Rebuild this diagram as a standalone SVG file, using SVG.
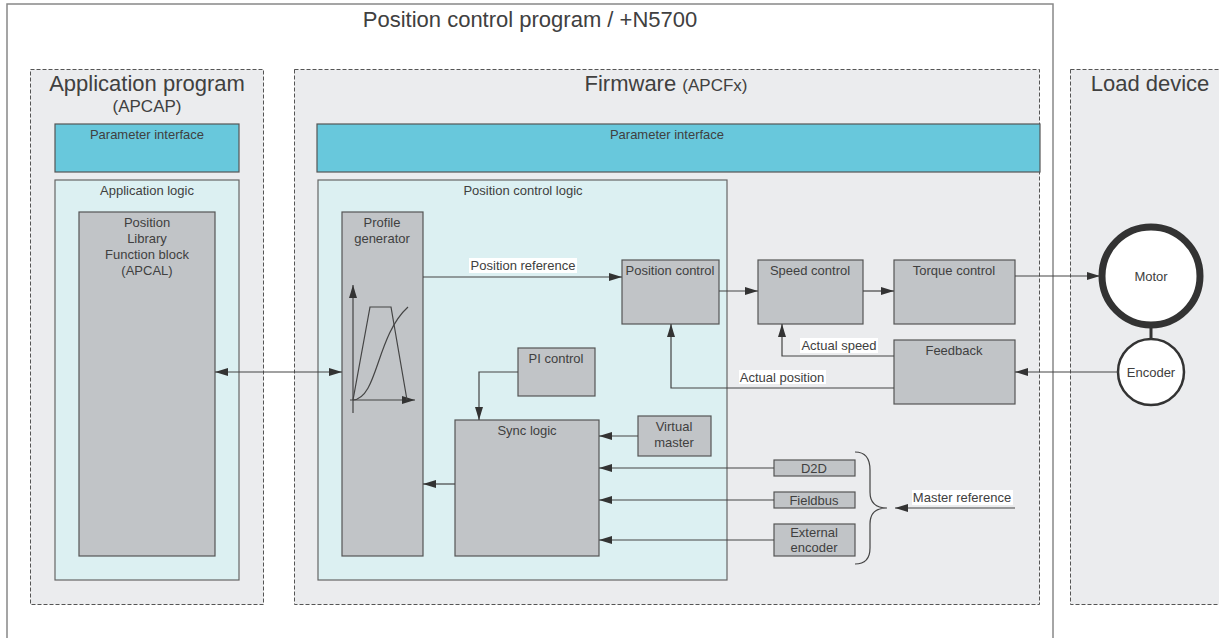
<svg xmlns="http://www.w3.org/2000/svg" width="1219" height="638" viewBox="0 0 1219 638">
<style>
text{font-family:"Liberation Sans",Arial,sans-serif;fill:#404040;text-anchor:middle}
.t13{font-size:13px}
.h{font-size:22px}
.sub{font-size:17px}
.zone{fill:#ebecee;stroke:#555;stroke-width:1;stroke-dasharray:4 2}
.param{fill:#68c8dc;stroke:#555;stroke-width:1.2}
.logic{fill:#dcf0f2;stroke:#666;stroke-width:1.2}
.blk{fill:#c1c4c7;stroke:#555;stroke-width:1.2}
.ln{fill:none;stroke:#444;stroke-width:1.2}
.lbl{fill:#fff}
</style>
<defs>
<marker id="ah" markerUnits="userSpaceOnUse" markerWidth="13" markerHeight="8" refX="13" refY="4" orient="auto-start-reverse">
<path d="M0,0 L13,4 L0,8 z" fill="#333"/>
</marker>
</defs>
<g id="frame">
<rect x="7" y="4" width="1046" height="660" fill="#fff" stroke="#888" stroke-width="1.5"/>
<text class="h" x="530" y="27">Position control program / +N5700</text>
</g>
<g id="app-program">
<rect class="zone" x="30.5" y="69.5" width="233" height="535"/>
<text class="h" x="147" y="91">Application program</text>
<text class="sub" x="147" y="112">(APCAP)</text>
</g>
<g id="app-param">
<rect class="param" x="55" y="124" width="184" height="48"/>
<text class="t13" x="147" y="139">Parameter interface</text>
</g>
<g id="app-logic">
<rect class="logic" x="55" y="180" width="184" height="400"/>
<text class="t13" x="147" y="195">Application logic</text>
</g>
<g id="apcal">
<rect class="blk" x="79" y="212" width="136" height="344"/>
<text class="t13" x="147" y="227">Position</text>
<text class="t13" x="147" y="243">Library</text>
<text class="t13" x="147" y="259">Function block</text>
<text class="t13" x="147" y="275">(APCAL)</text>
</g>
<g id="firmware">
<rect class="zone" x="294.5" y="69.5" width="745" height="535"/>
<text x="666" y="91"><tspan class="h" style="font-size:22px">Firmware </tspan><tspan style="font-size:17px">(APCFx)</tspan></text>
</g>
<g id="fw-param">
<rect class="param" x="317" y="124" width="723" height="48"/>
<text class="t13" x="667" y="139">Parameter interface</text>
</g>
<g id="pos-logic">
<rect class="logic" x="318" y="180" width="409" height="400"/>
<text class="t13" x="523" y="195">Position control logic</text>
</g>
<g id="profile-gen">
<rect class="blk" x="342" y="212" width="81" height="344"/>
<text class="t13" x="382" y="227">Profile</text>
<text class="t13" x="382" y="243">generator</text>
<line class="ln" x1="353" y1="413" x2="353" y2="285" marker-end="url(#ah)"/>
<line class="ln" x1="350" y1="400" x2="415" y2="400" marker-end="url(#ah)"/>
<path class="ln" d="M353,400 L370,307 L391,307 L407,400"/>
<path class="ln" d="M353,400 C378,398 376,336 408,307"/>
</g>
<g id="position-control">
<rect class="blk" x="622" y="260" width="97" height="64"/>
<text class="t13" x="670" y="275">Position control</text>
</g>
<g id="speed-control">
<rect class="blk" x="758" y="260" width="105" height="64"/>
<text class="t13" x="810" y="275">Speed control</text>
</g>
<g id="torque-control">
<rect class="blk" x="894" y="260" width="121" height="64"/>
<text class="t13" x="954" y="275">Torque control</text>
</g>
<g id="feedback">
<rect class="blk" x="894" y="340" width="121" height="64"/>
<text class="t13" x="954" y="355">Feedback</text>
</g>
<g id="pi-control">
<rect class="blk" x="518" y="348" width="77" height="48"/>
<text class="t13" x="556" y="363">PI control</text>
</g>
<g id="sync-logic">
<rect class="blk" x="455" y="420" width="144" height="136"/>
<text class="t13" x="527" y="435">Sync logic</text>
</g>
<g id="virtual-master">
<rect class="blk" x="638" y="416" width="73" height="40"/>
<text class="t13" x="674" y="431">Virtual</text>
<text class="t13" x="674" y="447">master</text>
</g>
<g id="d2d">
<rect class="blk" x="774" y="460" width="81" height="16"/>
<text class="t13" x="814" y="473">D2D</text>
</g>
<g id="fieldbus">
<rect class="blk" x="774" y="492" width="81" height="16"/>
<text class="t13" x="814" y="505">Fieldbus</text>
</g>
<g id="ext-encoder">
<rect class="blk" x="774" y="524" width="81" height="32"/>
<text class="t13" x="814" y="537">External</text>
<text class="t13" x="814" y="552">encoder</text>
</g>
<g id="load-device">
<rect class="zone" x="1070.5" y="69.5" width="160" height="535"/>
<text class="h" x="1150" y="91">Load device</text>
</g>
<g id="motor">
<circle cx="1151" cy="276" r="49" fill="#fff" stroke="#333" stroke-width="7"/>
<text class="t13" x="1151" y="281">Motor</text>
</g>
<g id="encoder">
<circle cx="1151" cy="372" r="33" fill="#fff" stroke="#333" stroke-width="2.5"/>
<text class="t13" x="1151" y="377">Encoder</text>
</g>
<g id="connectors">
<line class="ln" x1="423" y1="277" x2="622" y2="277" marker-end="url(#ah)"/>
<rect class="lbl" x="469" y="258" width="108" height="15"/>
<text class="t13" x="523" y="270">Position reference</text>
<line class="ln" x1="719" y1="291" x2="758" y2="291" marker-end="url(#ah)"/>
<line class="ln" x1="863" y1="291" x2="894" y2="291" marker-end="url(#ah)"/>
<line class="ln" x1="1015" y1="276" x2="1100" y2="276" marker-end="url(#ah)"/>
<line x1="1151" y1="328" x2="1151" y2="339" stroke="#333" stroke-width="3"/>
<line class="ln" x1="1118" y1="372" x2="1015" y2="372" marker-end="url(#ah)"/>
<polyline class="ln" points="894,356 782,356 782,324" marker-end="url(#ah)"/>
<rect class="lbl" x="800" y="338" width="78" height="15"/>
<text class="t13" x="839" y="350">Actual speed</text>
<polyline class="ln" points="894,388 671,388 671,324" marker-end="url(#ah)"/>
<rect class="lbl" x="739" y="370" width="87" height="14"/>
<text class="t13" x="782" y="382">Actual position</text>
<line class="ln" x1="215" y1="372" x2="342" y2="372" marker-start="url(#ah)" marker-end="url(#ah)"/>
<polyline class="ln" points="518,372 479,372 479,420" marker-end="url(#ah)"/>
<line class="ln" x1="455" y1="484" x2="423" y2="484" marker-end="url(#ah)"/>
<line class="ln" x1="638" y1="436" x2="599" y2="436" marker-end="url(#ah)"/>
<line class="ln" x1="774" y1="468" x2="599" y2="468" marker-end="url(#ah)"/>
<line class="ln" x1="774" y1="500" x2="599" y2="500" marker-end="url(#ah)"/>
<line class="ln" x1="774" y1="540" x2="599" y2="540" marker-end="url(#ah)"/>
<path class="ln" d="M855,452 Q870,452 870,470 L870,492 Q870,508 887,508 Q870,508 870,524 L870,548 Q870,564 855,564"/>
<line class="ln" x1="1015" y1="508" x2="895" y2="508" marker-end="url(#ah)"/>
<rect class="lbl" x="912" y="490" width="101" height="15"/>
<text class="t13" x="962" y="502">Master reference</text>
</g>
</svg>
